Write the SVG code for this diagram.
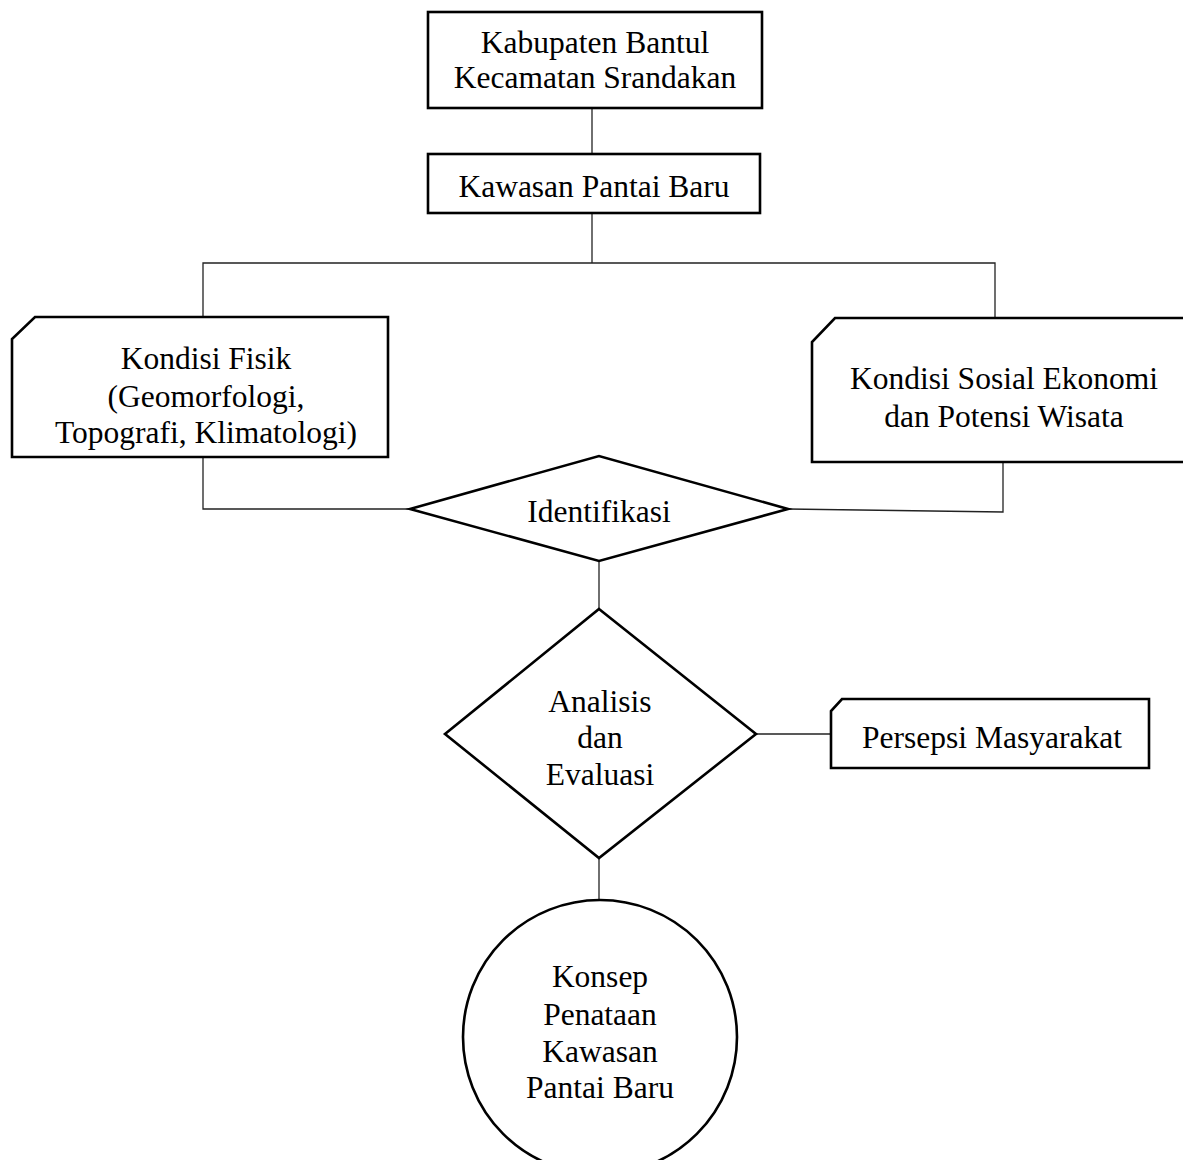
<svg xmlns="http://www.w3.org/2000/svg" width="1183" height="1160" viewBox="0 0 1183 1160">
<style>
.node{fill:#fff;stroke:#000;stroke-width:2.6}
.conn{fill:none;stroke:#222;stroke-width:1.3}
text{font-family:"Liberation Serif","Times New Roman",serif;font-size:31.5px;fill:#000;text-anchor:middle}
</style>
<rect width="1183" height="1160" fill="#fff"/>
<g id="connectors">
<line class="conn" x1="592" y1="108" x2="592" y2="154"/>
<polyline class="conn" points="592,213 592,263"/>
<polyline class="conn" points="203,317 203,263 995,263 995,318"/>
<polyline class="conn" points="203,457 203,509 410,509"/>
<polyline class="conn" points="788,509 1003,512 1003,462"/>
<line class="conn" x1="599" y1="561" x2="599" y2="609"/>
<line class="conn" x1="756" y1="734" x2="831" y2="734"/>
<line class="conn" x1="599" y1="858" x2="599" y2="900"/>
</g>
<g id="kabupaten">
<rect class="node" x="428" y="12" width="334" height="96"/>
<text x="595" y="53">Kabupaten Bantul</text>
<text x="595" y="88">Kecamatan Srandakan</text>
</g>
<g id="kawasan">
<rect class="node" x="428" y="154" width="332" height="59"/>
<text x="594" y="197">Kawasan Pantai Baru</text>
</g>
<g id="fisik">
<path class="node" d="M35,317 H388 V457 H12 V339 Z"/>
<text x="206" y="369">Kondisi Fisik</text>
<text x="206" y="407">(Geomorfologi,</text>
<text x="206" y="443">Topografi, Klimatologi)</text>
</g>
<g id="sosial">
<path class="node" d="M835,318 H1195 V462 H812 V342 Z"/>
<text x="1004" y="389">Kondisi Sosial Ekonomi</text>
<text x="1004" y="427">dan Potensi Wisata</text>
</g>
<g id="identifikasi">
<polygon class="node" points="410,509 599,456 788,509 599,561"/>
<text x="599" y="522">Identifikasi</text>
</g>
<g id="analisis">
<polygon class="node" points="599,609 756,734 599,858 445,734"/>
<text x="600" y="712">Analisis</text>
<text x="600" y="748">dan</text>
<text x="600" y="785">Evaluasi</text>
</g>
<g id="persepsi">
<path class="node" d="M842,699 H1149 V768 H831 V711 Z"/>
<text x="992" y="748">Persepsi Masyarakat</text>
</g>
<g id="konsep">
<circle class="node" cx="600" cy="1037" r="137"/>
<text x="600" y="987">Konsep</text>
<text x="600" y="1025">Penataan</text>
<text x="600" y="1062">Kawasan</text>
<text x="600" y="1098">Pantai Baru</text>
</g>
</svg>
